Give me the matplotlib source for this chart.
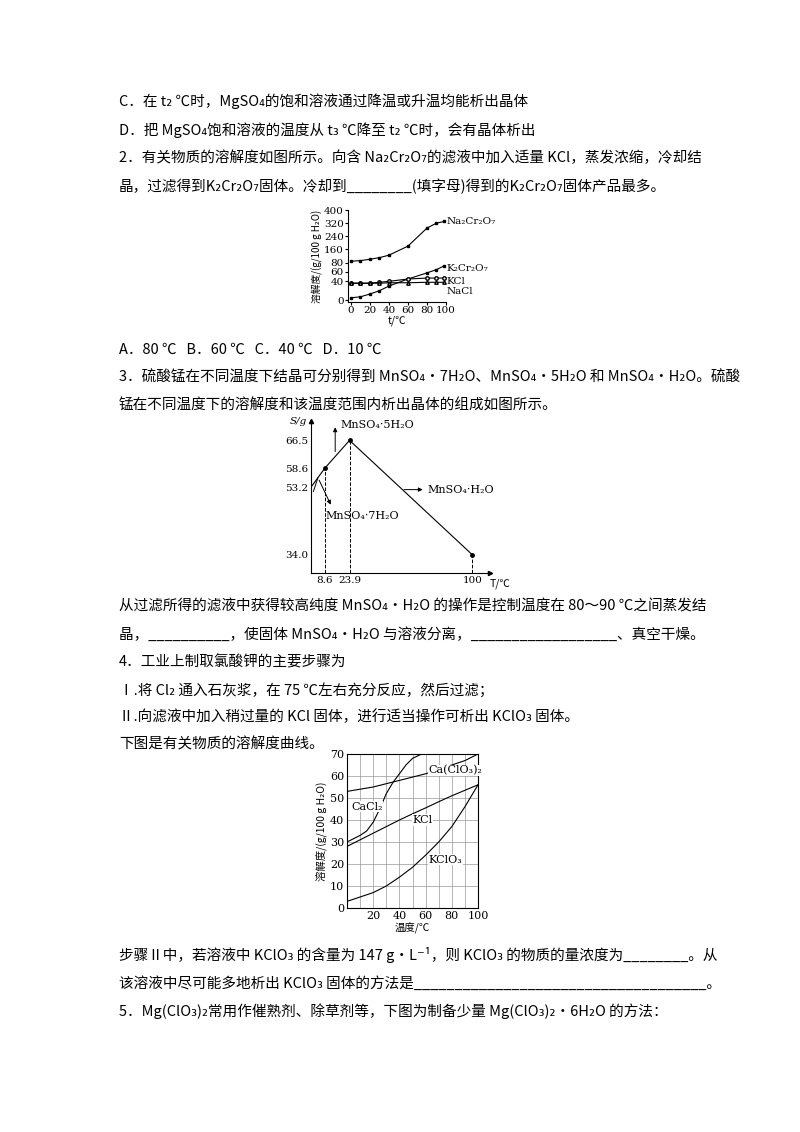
import matplotlib.pyplot as plt
import numpy as np

plt.rcParams['font.family'] = ['Noto Sans CJK SC', 'DejaVu Sans']
plt.rcParams['axes.unicode_minus'] = False

W, H = 800, 1132

# chart 1: solubility (g/100 g H2O)
t1 = [0, 10, 20, 30, 40, 60, 80, 90, 98]
na2cr2o7 = [88, 92, 100, 110, 125, 180, 290, 320, 330]
k2cr2o7 = [5, 7, 13, 20, 30, 45, 58, 65, 73]
kcl1 = [36, 36, 36, 38, 40, 45, 47, 47, 47]
nacl1 = [36, 36, 36, 36, 37, 37, 38, 38, 38]
y1_ticks = [0, 40, 60, 80, 160, 240, 320, 400]

# chart 2: MnSO4
t2 = [0, 8.6, 23.9, 100]
s2 = [53.2, 58.6, 66.5, 34.0]
s2_ticks = [34.0, 53.2, 58.6, 66.5]

# chart 3
t3 = [0, 10, 20, 30, 40, 50, 60, 70, 80, 90, 100]
caclo3 = [53, 54, 55, 56.5, 58, 59.5, 61, 63, 65, 67, 70]
kcl3 = [28, 31, 34, 37, 40, 42.8, 45.5, 48.3, 51, 53.5, 56]
kclo3 = [3, 5, 7, 10, 14, 18.5, 24, 30, 37, 46, 56]
t_cacl2 = [0, 10, 15, 20, 25, 30, 35, 40, 45, 50, 57]
cacl2 = [30, 33, 35, 39, 45, 52, 57, 61, 65, 68, 70]

fig = plt.figure(figsize=(W / 100, H / 100), dpi=100)


def txt(x, y, s, size=10.5, **kw):
    fig.text(x / W, 1 - y / H, s, fontsize=size, va='center', ha=kw.pop('ha', 'left'), **kw)


lines = [
    (119, 101, "C．在 t₂ ℃时，MgSO₄的饱和溶液通过降温或升温均能析出晶体"),
    (119, 130, "D．把 MgSO₄饱和溶液的温度从 t₃ ℃降至 t₂ ℃时，会有晶体析出"),
    (119, 158, "2．有关物质的溶解度如图所示。向含 Na₂Cr₂O₇的滤液中加入适量 KCl，蒸发浓缩，冷却结"),
    (119, 186, "晶，过滤得到K₂Cr₂O₇固体。冷却到________(填字母)得到的K₂Cr₂O₇固体产品最多。"),
    (119, 350, "A．80 ℃   B．60 ℃   C．40 ℃   D．10 ℃"),
    (119, 378, "3．硫酸锰在不同温度下结晶可分别得到 MnSO₄·7H₂O、MnSO₄·5H₂O 和 MnSO₄·H₂O。硫酸"),
    (119, 406, "锰在不同温度下的溶解度和该温度范围内析出晶体的组成如图所示。"),
    (119, 606, "从过滤所得的滤液中获得较高纯度 MnSO₄·H₂O 的操作是控制温度在 80～90 ℃之间蒸发结"),
    (119, 634, "晶，__________，使固体 MnSO₄·H₂O 与溶液分离，__________________、真空干燥。"),
    (119, 662, "4．工业上制取氯酸钾的主要步骤为"),
    (119, 690, "Ⅰ.将 Cl₂ 通入石灰浆，在 75 ℃左右充分反应，然后过滤；"),
    (119, 717, "Ⅱ.向滤液中加入稍过量的 KCl 固体，进行适当操作可析出 KClO₃ 固体。"),
    (119, 744, "下图是有关物质的溶解度曲线。"),
    (119, 955, "步骤Ⅱ中，若溶液中 KClO₃ 的含量为 147 g·L⁻¹，则 KClO₃ 的物质的量浓度为________。从"),
    (119, 983, "该溶液中尽可能多地析出 KClO₃ 固体的方法是____________________________________。"),
    (119, 1011, "5．Mg(ClO₃)₂常用作催熟剂、除草剂等，下图为制备少量 Mg(ClO₃)₂·6H₂O 的方法："),
]
for x, y, s in lines:
    txt(x, y, s)


def ax_at(x0, y0, x1, y1):
    return fig.add_axes([x0 / W, 1 - y1 / H, (x1 - x0) / W, (y1 - y0) / H])


# ---- chart 1 (broken y axis) ----
def f1(v):
    v = np.asarray(v, dtype=float)
    return np.where(v <= 80, v, 80 + (v - 80) * 0.35)


ax1 = ax_at(348, 210, 446, 302)
ax1.plot(t1, f1(na2cr2o7), 'k-', lw=0.8, marker='s', ms=2)
ax1.plot(t1, f1(k2cr2o7), 'k-', lw=0.8, marker='s', ms=2)
ax1.plot(t1, f1(kcl1), 'k-', lw=0.8, marker='o', ms=2.5, mfc='white')
ax1.plot(t1, f1(nacl1), 'k-', lw=0.8, marker='^', ms=2.5, mfc='white')
ax1.set_xlim(-3, 100)
ax1.set_ylim(-4, f1(400))
ax1.set_yticks(f1(y1_ticks))
ax1.set_yticklabels(y1_ticks, fontsize=7.5, family='DejaVu Serif')
ax1.set_xticks([0, 20, 40, 60, 80, 100])
ax1.set_xticklabels([0, 20, 40, 60, 80, 100], fontsize=7.5, family='DejaVu Serif')
ax1.tick_params(length=2, pad=1)
for s in ['top', 'right']:
    ax1.spines[s].set_visible(False)
ax1.set_ylabel("溶解度/(g/100 g H₂O)", fontsize=7, labelpad=1)
ax1.set_xlabel("t/℃", fontsize=7.5, labelpad=0, style='italic')
# label positions in the broken-axis coordinate
for lab, yv in [("Na₂Cr₂O₇", f1(330)), ("K₂Cr₂O₇", 68), ("KCl", 40), ("NaCl", 18)]:
    ax1.text(101, yv, lab, fontsize=7.5, va='center', family='DejaVu Serif', clip_on=False)

# ---- chart 2 ----
ax2 = ax_at(311, 421, 490, 573)
ax2.plot(t2, s2, 'k-', lw=0.8)
ax2.plot(t2[1:], s2[1:], 'ko', ms=2.5)
for tv, sv in zip(t2[1:], s2[1:]):
    ax2.plot([tv, tv], [28.8, sv], 'k--', lw=0.7)
ax2.set_xlim(0, 111)
ax2.set_ylim(28.8, 72)
ax2.set_yticks(s2_ticks)
ax2.set_yticklabels(["34.0", "53.2", "58.6", "66.5"], fontsize=7.5, family='DejaVu Serif')
ax2.set_xticks(t2[1:])
ax2.set_xticklabels(["8.6", "23.9", "100"], fontsize=7.5, family='DejaVu Serif')
ax2.tick_params(length=0, pad=2)
for s in ['top', 'right']:
    ax2.spines[s].set_visible(False)
ax2.plot(1, 0, '>k', ms=3, transform=ax2.transAxes, clip_on=False)
ax2.plot(0, 1, '^k', ms=3, transform=ax2.transAxes, clip_on=False)
ax2.text(-0.02, 1.0, "S/g", transform=ax2.transAxes, ha='right', va='center', fontsize=7.5, style='italic', family='DejaVu Serif')
ax2.text(1.0, -0.07, "T/℃", transform=ax2.transAxes, ha='left', va='center', fontsize=7.5)
kw = dict(arrowprops=dict(arrowstyle='-|>', lw=0.7, color='k', mutation_scale=6), fontsize=7.5, family='DejaVu Serif')
ax2.annotate("", xy=(15, 71), xytext=(15, 62.5), **kw)
ax2.text(18, 71, "MnSO₄·5H₂O", fontsize=8, va='center', family='DejaVu Serif')
ax2.plot([4.3, 1.5], [55.9, 52], 'k-', lw=0.7)
ax2.annotate("", xy=(13, 47.5), xytext=(4.3, 55.9), **kw)
ax2.text(9, 45, "MnSO₄·7H₂O", fontsize=8, va='center', family='DejaVu Serif')
ax2.annotate("", xy=(71, 52.5), xytext=(56, 52.5), **kw)
ax2.text(72, 52.5, "MnSO₄·H₂O", fontsize=8, va='center', family='DejaVu Serif')

# ---- chart 3 ----
ax3 = ax_at(347, 754, 478, 908)
ax3.plot(t3, caclo3, 'k-', lw=0.8)
ax3.plot(t3, kcl3, 'k-', lw=0.8)
ax3.plot(t3, kclo3, 'k-', lw=0.8)
ax3.plot(t_cacl2, cacl2, 'k-', lw=0.8)
ax3.set_xlim(0, 100)
ax3.set_ylim(0, 70)
ax3.set_xticks(range(0, 101, 20))
ax3.set_xticklabels(["", "20", "40", "60", "80", "100"], fontsize=8, family='DejaVu Serif')
ax3.set_yticks(range(0, 71, 10))
ax3.set_yticklabels(range(0, 71, 10), fontsize=8, family='DejaVu Serif')
ax3.set_xticks(range(0, 101, 10), minor=True)
ax3.grid(True, which='both', color='#999999', lw=0.5)
ax3.tick_params(which='both', length=0, pad=2)
ax3.set_ylabel("溶解度/(g/100 g H₂O)", fontsize=7.5, labelpad=2)
ax3.set_xlabel("温度/℃", fontsize=7.5, labelpad=1)
for lab, xv, yv in [("Ca(ClO₃)₂", 62, 62.5), ("CaCl₂", 3, 46), ("KCl", 50, 40), ("KClO₃", 62, 22)]:
    ax3.text(xv, yv, lab, fontsize=8, va='center', family='DejaVu Serif',
             bbox=dict(fc='white', ec='none', pad=0.5))

fig.savefig("out.png", dpi=100, facecolor='white')
